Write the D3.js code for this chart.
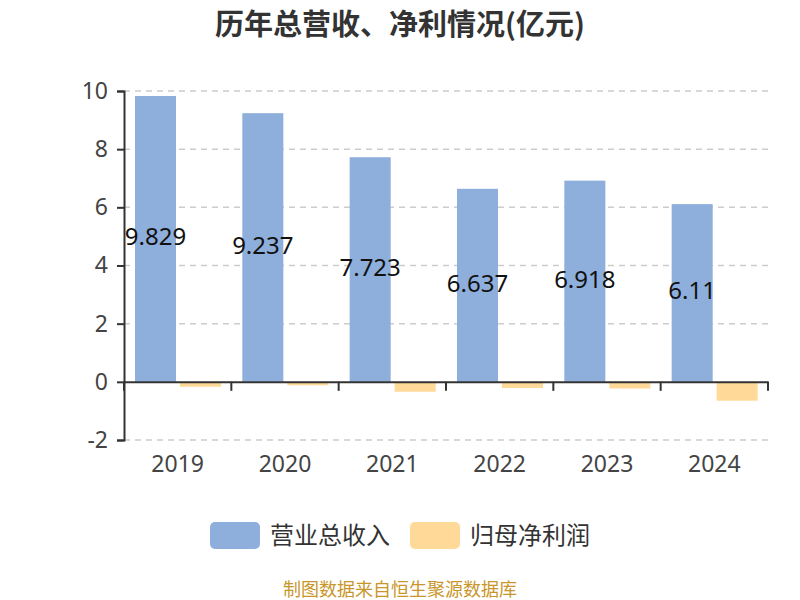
<!DOCTYPE html>
<html>
<head>
<meta charset="utf-8">
<script src="https://cdn.jsdelivr.net/npm/d3@7"></script>
<style>
  body { margin: 0; background: #fff; }
  text { font-family: "Noto Sans CJK SC", "Noto Sans", sans-serif; }
</style>
</head>
<body>
<div id="chart"></div>
<script>
const years = ['2019', '2020', '2021', '2022', '2023', '2024']
const revenue = [9.829, 9.237, 7.723, 6.637, 6.918, 6.11]
const netProfit = [-0.17, -0.12, -0.34, -0.21, -0.23, -0.65]
const yTicks = [-2, 0, 2, 4, 6, 8, 10]
const seriesNames = ['营业总收入', '归母净利润']
const colors = ['#8eaedb', '#ffd998']

const width = 800
const height = 600
const margin = {top: 91, right: 32, bottom: 160, left: 124}

const svg = d3.select('#chart')
  .append('svg')
  .attr('width', width)
  .attr('height', height)

const x = d3.scaleBand()
  .domain(years)
  .range([margin.left, width - margin.right])

const y = d3.scaleLinear()
  .domain([-2, 10])
  .range([height - margin.bottom, margin.top])

// grid
svg.append('g')
  .selectAll('line')
  .data(yTicks.filter(d => d !== 0))
  .enter()
  .append('line')
  .attr('x1', margin.left)
  .attr('x2', width - margin.right)
  .attr('y1', d => y(d))
  .attr('y2', d => y(d))
  .attr('stroke', '#ccc')
  .attr('stroke-width', 1.5)
  .attr('stroke-dasharray', '6,5')

// bars
const barW = 41
const offset = 11
const gap = 4

svg.append('g')
  .selectAll('rect')
  .data(revenue)
  .enter()
  .append('rect')
  .attr('x', (d, i) => x(years[i]) + offset)
  .attr('y', d => y(d))
  .attr('width', barW)
  .attr('height', d => y(0) - y(d))
  .attr('fill', colors[0])

svg.append('g')
  .selectAll('rect')
  .data(netProfit)
  .enter()
  .append('rect')
  .attr('x', (d, i) => x(years[i]) + offset + barW + gap)
  .attr('y', y(0))
  .attr('width', barW)
  .attr('height', d => y(d) - y(0))
  .attr('fill', colors[1])

// value labels
svg.append('g')
  .selectAll('text')
  .data(revenue)
  .enter()
  .append('text')
  .attr('x', (d, i) => x(years[i]) + offset + barW / 2)
  .attr('y', d => (y(d) + y(0)) / 2 - 2)
  .attr('dy', '0.35em')
  .attr('text-anchor', 'middle')
  .attr('font-size', 24)
  .attr('fill', '#111')
  .style('font-family', '"Noto Sans", sans-serif')
  .text(d => d)

// y axis
const yAxis = svg.append('g')
  .attr('transform', `translate(${margin.left},0)`)
  .call(d3.axisLeft(y).tickValues(yTicks).tickFormat(d => String(d)).tickSize(7).tickPadding(9))
yAxis.select('.domain').attr('stroke', '#333').attr('stroke-width', 2)
yAxis.selectAll('.tick line').attr('stroke', '#333').attr('stroke-width', 2)
yAxis.selectAll('.tick text')
  .attr('font-size', 23)
  .attr('fill', '#444')
  .style('font-family', '"Noto Sans", sans-serif')

// x axis at zero
const xAxis = svg.append('g')
  .attr('transform', `translate(0,${y(0)})`)
  .call(d3.axisBottom(x).tickSize(0).tickSizeOuter(0).tickPadding(74))
xAxis.select('.domain').attr('stroke', '#333').attr('stroke-width', 2)
xAxis.selectAll('.tick text')
  .attr('font-size', 23)
  .attr('fill', '#444')
  .style('font-family', '"Noto Sans", sans-serif')

svg.append('g')
  .selectAll('line')
  .data(years.map(d => x(d)).concat([width - margin.right]))
  .enter()
  .append('line')
  .attr('x1', d => d)
  .attr('x2', d => d)
  .attr('y1', y(0))
  .attr('y2', y(0) + 9)
  .attr('stroke', '#333')
  .attr('stroke-width', 2)

// title
svg.append('text')
  .attr('x', width / 2)
  .attr('y', 35)
  .attr('text-anchor', 'middle')
  .attr('font-size', 29)
  .attr('font-weight', 'bold')
  .attr('fill', '#333')
  .text('历年总营收、净利情况(亿元)')

// legend
const legendX = [210, 410]
const legend = svg.append('g')
  .selectAll('g')
  .data(seriesNames)
  .enter()
  .append('g')
  .attr('transform', (d, i) => `translate(${legendX[i]},522)`)

legend.append('rect')
  .attr('width', 50)
  .attr('height', 27)
  .attr('rx', 5)
  .attr('fill', (d, i) => colors[i])

legend.append('text')
  .attr('x', 60)
  .attr('y', 14)
  .attr('dy', '0.35em')
  .attr('font-size', 24)
  .attr('fill', '#333')
  .text(d => d)

// source
svg.append('text')
  .attr('x', width / 2)
  .attr('y', 596)
  .attr('text-anchor', 'middle')
  .attr('font-size', 18)
  .attr('fill', '#c9962b')
  .text('制图数据来自恒生聚源数据库')
</script>
</body>
</html>
